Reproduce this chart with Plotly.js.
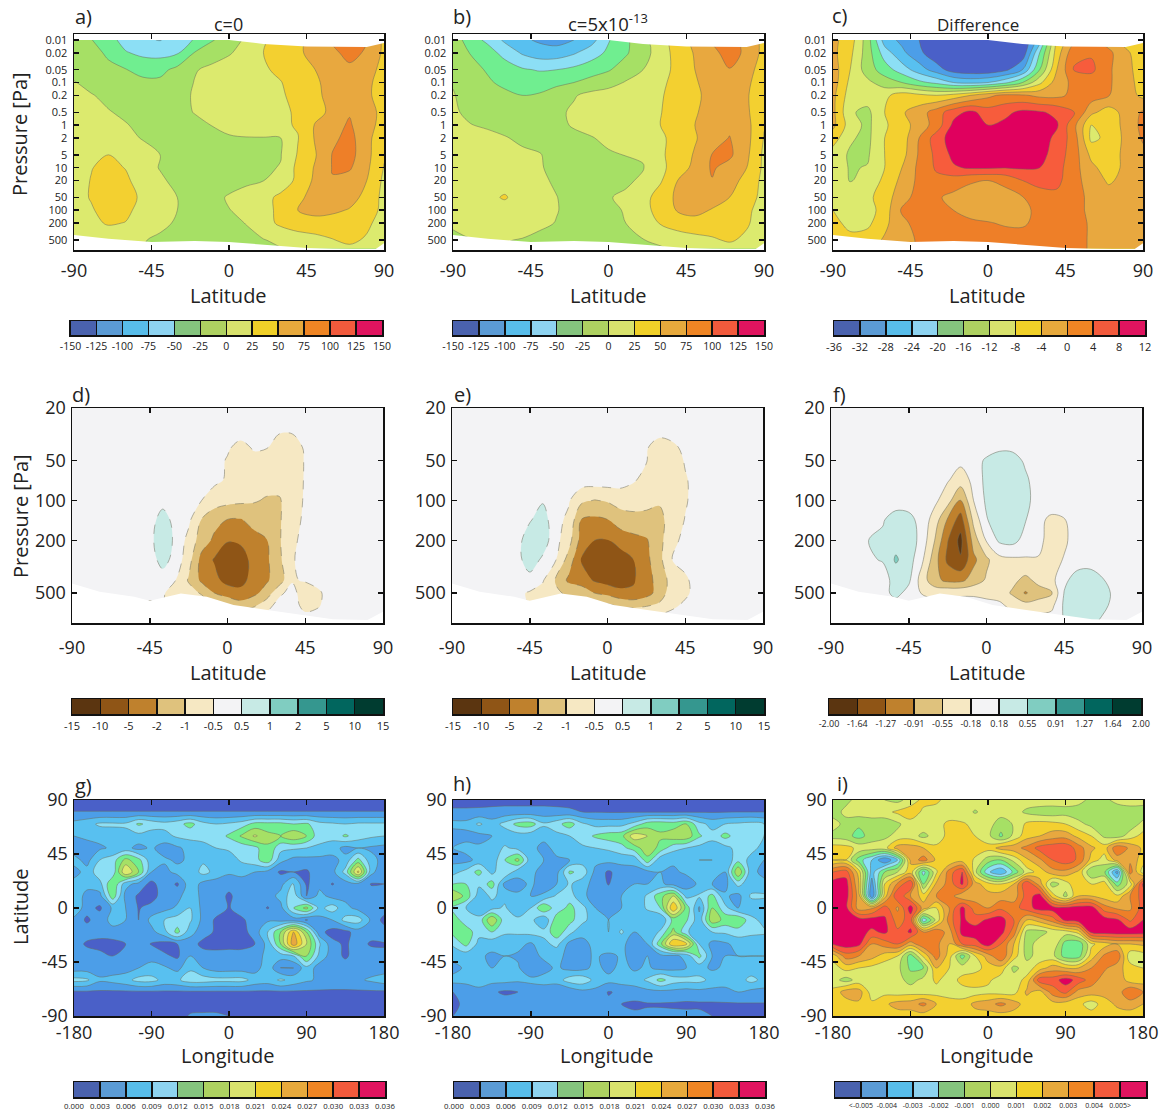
<!DOCTYPE html>
<html><head><meta charset="utf-8">
<script src="https://cdn.plot.ly/plotly-3.0.1.min.js"></script>
<style>html,body{margin:0;padding:0;background:#fff}</style></head>
<body><div id="chart" style="width:1166px;height:1114px"></div>
<script>
// ---------- coordinates ----------
const latTop = [-90,-80,-70,-60,-50,-40,-30,-20,-10,0,10,20,30,40,50,60,70,80,90];
const presTop = [0.01,0.02,0.05,0.1,0.2,0.5,1,2,5,10,20,50,100,200,500,800];
const latMid = [-90,-60,-52.5,-45,-37.5,-30,-22.5,-15,-7.5,0,7.5,15,22.5,30,37.5,45,52.5,60,67.5,75,90];
const presMid = [20,30,40,50,70,100,140,200,280,400,500,620,800];
const lonMap = [-180,-165,-150,-135,-120,-105,-90,-75,-60,-45,-30,-15,0,15,30,45,60,75,90,105,120,135,150,165,180];
const latMap = [90,80,70,60,50,40,30,20,10,0,-10,-20,-30,-40,-50,-60,-70,-80,-90];

// ---------- panel a: c=0 ----------
const zA = [
[-10,-24,-40,-60,-72,-76,-65,-48,-27,-15,5,22,35,45,58,78,85,76,45],
[-8,-15,-30,-48,-56,-58,-53,-24,-12,-2,8,25,35,46,58,70,82,72,45],
[-6,-10,-18,-24,-32,-32,-18,-2,6,10,15,22,30,42,50,62,70,60,42],
[1,-5,-10,-16,-20,-20,-15,1,8,12,16,20,24,36,47,57,62,55,40],
[5,1,-4,-10,-14,-14,-10,3,12,15,18,21,23,30,46,56,60,54,40],
[8,6,1,-3,-8,-10,-8,1,8,14,17,20,22,27,38,58,73,58,44],
[10,9,6,1,-4,-8,-10,-7,0.5,6,12,17,21,27,52,66,78,58,42],
[11,11,8,4,-1,-6,-10,-10,-7,-2,-1,-1,0,24,52,70,82,60,26],
[13,18,25,15,6,0,-8,-12,-21,-22,-8,-4,-1,27,48,76,84,58,27],
[14,24,32,24,8,-1,-7,-12,-16,-14,-8,-3,1,32,52,76,78,55,24],
[14,26,35,30,12,3,-5,-10,-10,-8,-4,-0.5,12,30,55,74,65,50,20],
[14,27,38,35,20,6,0,-6,-6,2,8,18,30,45,58,65,60,42,18],
[14,22,37,32,14,4,0,-6,-4,-0.5,4,18,30,50,58,55,48,38,18],
[12,18,28,24,12,4,-2,-8,-6,-4,0.5,15,30,38,40,38,38,30,14],
[8,6,5,4,1,-3,-8,-10,-10,-8,-4,-1,5,12,17,24,30,22,6],
[5,3,2,2,0,-5,-10,-12,-11,-10,-8,-6,-1,4,8,14,20,10,4]];

// ---------- panel b: c=5x10^-13 ----------
const zB = [
[-8,-40,-55,-80,-95,-104,-110,-100,-85,-52,-30,-8,15,38,58,78,88,62,45],
[-5,-26,-40,-58,-78,-88,-88,-78,-62,-45,-28,-10,12,35,52,68,85,70,42],
[-3,-18,-27,-38,-47,-52,-50,-44,-36,-27,-14,0,15,32,50,62,74,58,40],
[-1,-12,-22,-30,-35,-34,-30,-25,-16,-10,2,12,20,33,48,58,64,54,38],
[1,-6,-13,-20,-25,-23,-14,-2,7,12,15,18,23,33,47,55,60,52,36],
[2,-3,-7,-11,-15,-14,-5,4,10,14,17,20,24,36,48,58,64,54,30],
[4,0.5,-2,-5,-9,-10,-5,2,6,12,16,20,25,40,50,60,70,58,26],
[6,6,4,1,-3,-6,-8,-5,-1,4,9,14,20,35,48,62,76,58,24],
[10,11,9,7,3,1,-6,-9,-6,-2,0.5,2,20,38,52,76,80,55,20],
[11,13,12,10,6,2,-6,-12,-11,-9,-5,-1,18,38,56,78,66,50,20],
[12,14,15,16,9,4,-3,-10,-9,-6,-3,3,22,50,62,74,60,42,18],
[12,16,20,27,15,6,0.5,-8,-7,-1,3,16,36,55,64,62,50,38,16],
[8,13,15,16,11,6,1,-7,-5,-3,1,15,36,52,58,48,40,30,14],
[2,9,11,12,9,5,-1,-7,-7,-5,0,8,27,36,40,38,38,28,12],
[-3,-1,0.5,1,-1,-6,-9,-11,-10,-8,-4,-0.5,4,12,17,22,28,20,8],
[-5,-3,-2,-2,-3,-8,-10,-12,-11,-10,-8,-6,-2,3,8,12,16,10,4]];

// ---------- panel c: difference ----------
const zC = [
[-3,-6,-14,-26,-29,-32,-36,-38,-38,-38,-38,-36,-26,-7,-1,1,-2,-6,-7],
[-3,-7,-14,-22,-27,-31,-35,-38,-40,-40,-40,-35,-20,-6,3,3.5,1,-3,-7],
[-2,-8,-14,-18,-22,-26,-30,-34,-35,-35,-33,-28,-16,-4,4.3,5,0.5,-2,-7],
[-2,-9,-11,-14,-16,-19,-21,-24,-25,-24,-21,-16,-9,-2,1,1.5,0.5,-2,-6],
[-3,-10,-10,-9,-6,-7,-8,-6.5,-4,-1,1,0.5,-1,-1,1,2,0.2,-2,-5],
[-3,-11.5,-13,-8,-4.5,-2,2,6.5,9,6,7,9,8.5,7,4.5,-3,-6,-2.5,0.5],
[-3,-10,-13,-8.5,-6,-2,1.5,9,10,8,9,10,10,8.5,1,-8,-7,-2.5,1],
[-6,-11.5,-13,-8,-6,0,6,10,11,11,11,11,10,7,2,-9,-7,-3,0.5],
[-10,-12.5,-12.5,-8,-5.5,0.5,5,9,11,11,11,11,9.5,6,2,-5,-6,-3,-1],
[-10,-12.3,-11.8,-8,-4,1,4.5,7.5,8.5,8.5,8.2,8.5,8,5.5,1.5,-3,-6,-3,-2],
[-10,-12.2,-11,-7,-3,1,3,2,0.5,0,1,4,5.5,5,1.5,-2,-4.5,-3,-2],
[-9,-10.5,-9,-6,-1.5,1.5,0.5,-1,-2,-2,-1.5,-0.2,2,3,1.5,-1,-2.5,-3,-3],
[-8,-11,-10,-6,0.5,2,1.5,0,-2,-2.5,-2,-1,1,2.5,1.5,-1,-2,-2,-2],
[-6,-10,-9,-5,-1,1.5,2,2,1,0.3,-0.5,-0.5,1,2,1.5,-0.5,-1.5,-2,-2],
[-5,-6,-6,-3.5,-1.5,0.5,1,1.5,2,2,2,1.5,2,2,1.5,-0.5,-1.5,-2,-3],
[-4,-5,-5,-3,-1.5,0.5,1,1.5,2,2,2,1.5,2,2,1.5,-0.5,-1.5,-2,-3]];

// ---------- panel d ----------
const zD = [
[0,0,0,0,0,0,0,0,0,0,0,0,0,0,0,0,0,0,0,0,0],
[0,0,0,0,0,0,0,0,0,0,0,0,-.1,-.35,-.35,-.1,0,0,0,0,0],
[0,0,0,0,0,0,0,0,0,-.35,-.7,-.4,-.45,-.9,-.9,-.3,0,0,0,0,0],
[0,0,0,0,0,0,0,0,-.1,-.55,-.8,-.65,-.7,-.85,-.85,-.4,0,0,0,0,0],
[0,0,0,0,0,0,0,-.1,-.3,-.55,-.8,-.8,-.8,-.8,-.8,-.4,0,0,0,0,0],
[0,0,0,0,.1,0,-.1,-.5,-.75,-.85,-.9,-.95,-1.1,-1.1,-.7,-.4,0,0,0,0,0],
[0,0,0,0,.75,.1,-.3,-1.05,-1.7,-2.1,-2.2,-1.7,-1.3,-1.1,-.7,-.3,0,0,0,0,0],
[0,0,0,.1,.95,.2,-.65,-1.5,-2.6,-4.8,-4.5,-3,-2.2,-1.1,-.6,-.2,0,0,0,0,0],
[0,0,0,0,.7,.1,-.8,-3,-5.5,-8,-7.5,-4,-2.6,-1.2,-.55,-.1,0,0,0,0,0],
[0,0,0,0,0,-.5,-1.1,-2.6,-4,-7,-6.5,-4,-2.4,-1.5,-.55,-.4,-.1,0,0,0,0],
[0,0,0,-.2,-.4,-.7,-.8,-1.1,-2,-3,-4.2,-2.8,-1.6,-.6,-.15,-.8,-.6,0,0,0,0],
[0,0,-.1,-.6,-.5,-.6,-.6,-.7,-1,-1.3,-1.5,-1.2,-.7,-.1,0,-.7,-.55,0,0,0,0],
[0,0,0,0,0,0,0,0,0,0,0,0,0,0,0,0,0,0,0,0,0]];

// ---------- panel e ----------
const zE = [
[0,0,0,0,0,0,0,0,0,0,0,0,0,0,0,0,0,0,0,0,0],
[0,0,0,0,0,0,0,0,0,0,0,0,0,-.1,0,0,0,0,0,0,0],
[0,0,0,0,0,0,0,0,0,0,0,0,-.4,-.8,-.65,-.2,0,0,0,0,0],
[0,0,0,0,0,0,0,0,0,0,0,-.1,-.45,-.85,-.8,-.4,0,0,0,0,0],
[0,0,0,0,0,0,0,0,0,0,-.1,-.4,-.65,-.9,-.85,-.55,-.1,0,0,0,0],
[0,0,0,.1,.4,0,-.4,-.9,-1.05,-.95,-.8,-.8,-.85,-.95,-.8,-.55,-.1,0,0,0,0],
[0,0,0,.4,.75,-.2,-.6,-2.2,-2.6,-2.1,-1.5,-1.3,-1.3,-1.25,-.8,-.45,0,0,0,0,0],
[0,0,.1,.8,.8,-.2,-.8,-3.2,-5,-5.2,-3.8,-3,-2.3,-1.3,-.65,-.2,0,0,0,0,0],
[0,0,.1,.8,.3,-.45,-1.4,-5.5,-6,-7,-7.5,-5,-2.8,-1.3,-.5,-.1,0,0,0,0,0],
[0,0,0,.1,-.4,-1.1,-2.6,-3.5,-5.5,-7,-7.8,-5.5,-3.2,-1.6,-.8,-.6,0,0,0,0,0],
[0,0,-.3,-.55,-.7,-.9,-1.2,-1.4,-2,-2.8,-4,-4.5,-3.2,-1.6,-.7,-.6,-.1,0,0,0,0],
[0,0,-.1,-.5,-.6,-.6,-.6,-.7,-.7,-.9,-1.2,-1.3,-1.1,-.9,-.6,-.3,0,0,0,0,0],
[0,0,0,0,0,0,0,0,0,0,0,0,0,0,0,0,0,0,0,0,0]];

// ---------- panel f ----------
const zF = [
[0,0,0,0,0,0,0,0,0,0,0,0,0,0,0,0,0,0,0,0,0],
[0,0,0,0,0,0,0,0,0,0,0,0,0,0,0,0,0,0,0,0,0],
[0,0,0,0,0,0,0,0,0,0,.1,.1,0,0,0,0,0,0,0,0,0],
[0,0,0,0,0,0,0,-.1,0,.25,.4,.35,.12,0,0,0,0,0,0,0,0],
[0,0,0,0,0,0,-.15,-.35,-.1,.3,.42,.42,.25,0,0,0,0,0,0,0,0],
[0,0,0,0,0,-.1,-.4,-.95,-.18,.25,.42,.42,.3,0,0,0,0,0,0,0,0],
[0,.15,.35,.3,.05,-.35,-.95,-1.45,-.45,.15,.42,.42,.2,-.1,-.25,-.2,0,0,0,0,0],
[0,.25,.4,.4,.05,-.55,-1.25,-1.75,-.75,-.15,.25,.3,.05,-.1,-.3,-.25,0,0,0,0,0],
[0,.2,.6,.35,-.1,-.75,-1.35,-1.6,-1,-.62,-.3,-.25,-.22,-.2,-.35,-.15,0,0,0,0,0],
[0,.05,.3,.25,-.35,-.8,-1,-1,-.75,-.5,-.3,-.45,-.65,-.45,-.3,.1,.35,.4,.2,0,0],
[0,.05,.3,.05,-.2,-.3,-.25,-.25,-.25,-.3,-.35,-.6,-.95,-.7,-.6,.2,.4,.45,.35,.05,0],
[0,0,0,0,0,0,0,0,0,-.05,-.1,-.3,-.4,-.4,-.3,.25,.4,.45,.3,0,0],
[0,0,0,0,0,0,0,0,0,0,0,0,0,0,0,.2,.3,.35,.1,0,0]];

// ---------- panel g (x 10^-3) ----------
const zG = [
[1.5,1.5,1.5,1.5,1.5,1.5,1.5,1.5,1.5,1.5,1.5,1.5,1.5,1.5,1.5,1.5,1.5,1.5,1.5,1.5,1.5,1.5,1.5,1.5,1.5],
[3.1,3.1,3.1,3.1,3.1,3.1,3.1,3.1,3.1,3.1,3.1,3.1,3.1,3.1,3.1,3.1,3.1,3.1,3.1,3.1,3.1,3.1,3.1,3.1,3.1],
[7,8,9.5,9.5,9.5,12.5,11,10,11,13,10,9,9.5,10.5,13,13,13,12,12.5,10,9.5,9,9.5,9.5,9.5],
[6,6.5,7,7.5,8,8,7,8,9.5,10,10,10.5,12.5,15.5,18.5,16,15,17.5,15,10,10,12.5,10.5,9.5,9],
[4.5,5,5.5,6.5,7,5,6.5,4.5,5.5,7,8,9,9.5,10,11,14.5,10,9.5,9,8.5,7.5,5,6,5.5,5],
[7,5,9,10.5,16,13,7,6.5,5.5,6.5,8.5,8,7.5,9.5,11,14,7,5,5,5,5,7,13,7,5],
[5,7,11,10,21,15,6,5,7,7,10,8,6.5,7,6,5,2.5,3,2.5,5,5,10,22,7,3.5],
[7,6.5,8,15,7,5,2,5,2.5,8,5,4.5,4,4.5,4.5,4.5,5,9.5,2.5,5,2.8,4.5,5,2.8,3],
[7,5.5,5,14,5,2.5,1.8,4.5,5,8,5,4.5,2.5,4.5,4.5,4.5,7,11,3,7,5,5,5,4.5,4.5],
[9,4,2.5,6.5,6,2.8,4,5,6.5,9,5,4.5,2.8,4.5,4.5,2.8,5,12,16,8,10.5,7,5,4.5,4.5],
[5,2.5,4.5,7,6,3,7,9,10.5,9.5,5,2.5,1.8,2.5,4.5,5.5,5,4.5,2.8,5,6,10,10.5,5.5,2],
[4.5,4.5,4.5,5,5,4.5,5,8,13,7,4.5,2.5,1.5,1.8,4.5,9,15,24,15,4,1.8,2,4.5,4.5,4.5],
[4.5,2.5,1.8,1.8,3,4.5,2.8,1.8,3,4.5,2,1.5,1.8,1.8,3,7,15,26,18,9.5,4,2.5,4.5,2.5,2.8],
[4.5,4.5,4,3,4,4.5,5,3.5,2.5,6,4.5,4.5,4.5,4.5,4.5,7,7.5,9,15.5,8,4.5,2.5,4.5,5,3.5],
[4.5,4.5,4.5,4.5,4.5,6,7,6.5,5,8.5,6,4.5,4.5,4.5,4.5,8,2.8,3,8,4.5,4.5,4.5,4.5,4.5,4.5],
[10,9.5,6.5,7,8,10,10,8,8.5,10.5,10.5,10,10,10,8,7.5,9.5,8,6.5,5.5,5,5,5.5,6.5,7.5],
[2.5,2.5,2.5,2.5,2.5,2.5,2.5,2.5,2.5,2.5,2.5,2.5,2.5,2.5,2.5,2.5,2.5,2.5,2.5,2.5,2.5,2.5,2.5,2.5,2.5],
[1.5,1.5,1.5,1.5,1.5,1.5,1.5,1.5,1.5,1.5,1.5,1.5,1.5,1.5,1.5,1.5,1.5,1.5,1.5,1.5,1.5,1.5,1.5,1.5,1.5],
[1.5,1.5,1.5,1.5,1.5,1.5,1.5,1.5,1.5,3.4,3.6,3.6,3,1.5,1.5,1.5,1.5,1.5,1.5,1.5,1.5,1.5,1.5,1.5,1.5]];

// ---------- panel h (x 10^-3) ----------
const zH = [
[2,2,2,2,2,2,2,2,2,2,2,2,2,2,2,2,2,2,2,2,2,2,2,2,2],
[3.5,3.5,3.6,3.8,4,4,4,4,3.8,3.5,3,2.9,2.8,2.8,2.8,2.8,2.8,2.8,2.8,2.8,2.8,2.9,3,3,3],
[7,7,9.5,7.5,10,13,13.5,9.5,11,13.5,9.5,8,8,8,10,13.5,14,13.5,15,10,8,9,9.5,10,9],
[4.5,5,5,6,7,7.5,7,7,8,9,10.5,12.5,13.5,14,20,18,15.5,17,17,12.5,10,13,10.5,10,9],
[6,7,6.5,7,9.5,8,7,5,7,8,8.5,9,9.5,11,13.5,17,14,10,9,8,7.5,8,10,10,8],
[5,5,7,7,12,16,7,6,5.5,6,7.5,7,7,7,7,14,7,6.5,6.5,6,6,6.5,11,8,6],
[8,10,13,8,12,7,7,4.5,5,12.5,11,5,2.5,4.5,5,5,6,5.5,6.5,6.5,6.5,6,18,7,5],
[12,12,9.5,13.5,5,5,6.5,4.5,6,9.5,7,5,2.8,5.5,6,6,6.5,5,4.5,6.5,6,5,10,7,7],
[18,14,7.5,9.5,8,6.5,6,6.5,9.5,10.5,6.5,5,5,6,6.5,9.5,14,18,8,9.5,13,6.5,5,9.5,9.5],
[11,9,7,8,9.5,6,9,15,10,13,10,6,5,6,6.5,9.5,12,24,14,5.5,15,10,6,7,7],
[14,10,10,18,10,10,10,6,14,13,10,7,6,7,6.5,6.5,6,13,12.5,7,17,14,15,10,8],
[13,14,10,12,9.5,9.5,10,10,14,10,6.5,6.5,6,9.5,6,6.5,9.5,16,9.5,7,9,9.5,10.5,10,9.5],
[9.5,13,8,7,7,7,5.5,8,10,5,5.5,6.5,9,6.5,5,6,14,24,22,9,5,5.5,7,6.5,7],
[7,7,6.5,5.5,6,5.5,5,6.5,6.5,5.5,5,6.5,5,6.5,5,6,5,5,7,13,6,6,6,6,6],
[5,6.5,6.5,6,6.5,6.5,3,5,6.5,5,5,7,5,7,5.5,6.5,5,5,6,7,5.5,6.5,6.5,7,8],
[7,7,7.5,7,7,6.5,7,7,7.5,10.5,11,8,7,7.5,7.5,9.5,13,10.5,10,10,8,7.5,7.5,10,8],
[3,4,5,3.5,2.5,3,3.5,4.5,3,3.5,5,5,2.8,3.5,4.5,5,5,5,4.5,5,5,5,6,5,5],
[2.5,3.5,4,4.5,4.5,4,4,4,4,4,4,4,3.5,3,2.5,2.8,2.8,2.7,2.6,2.6,2.6,2.7,2.7,2.8,2.8],
[3,3.5,3.5,3.5,3.5,3.5,3.5,3.5,3.5,3.5,4,4,3.5,3.5,3.5,3.5,3.5,3.5,3.5,3.5,3,3,3,3,3]];

// ---------- panel i (x 10^-3) ----------
const zI = [
[-.5,-.3,.4,.5,0,-.3,.4,1.3,1.2,.6,.5,.5,.4,.3,.5,.5,.6,.6,.5,.4,-.3,-.3,.4,.6,.5],
[-.5,.3,.5,.6,.7,1.2,1.6,.8,.6,.5,.5,-.1,.4,.5,.4,-.2,-.5,-.6,-.4,-.6,-.7,-.5,-.8,-.6,-.6],
[.5,-.4,-.8,-.6,-.7,-.2,.6,.7,.7,1.2,1.1,.8,.5,-.6,.1,1.2,1.4,1.3,1,.3,-.3,-.7,-.8,-.6,.3],
[-.4,-.6,-1.4,-.5,-.2,.3,.5,-.3,.5,1.3,1.3,1,.3,-1.2,.3,1.6,2,2.5,2.6,1.7,1,-.2,-.5,.5,1.4],
[1.5,1.4,.7,.5,.6,2.5,2.5,2,1.2,1.6,1.6,1.3,1.4,2.4,2.6,3.3,4.4,4.7,4.8,3.5,2.2,1.5,3.8,2.8,1.8],
[1,1,-1.5,-3,-5,-3,2.2,3.5,1.8,1,1.5,.9,-.5,-1,.3,1.8,2.8,4,4.6,3.8,1.6,.5,2.5,2.8,1.4],
[4,4.5,1.5,-3.5,-1,0,1.6,-2.4,.8,3.5,5,.3,-2.8,-4,-1.7,.5,1.4,2.6,2.7,1.8,-1,-.8,-4.5,3.5,.5],
[5.5,5.5,2,-4.5,1,3.2,5,-1,2.2,3.4,5.2,2.4,1.4,1,2,5,2.5,-.5,.5,2,1,1.5,-1.5,.5,5.2],
[5.5,5.5,2.5,-5,1.5,5,3,1.5,3,3.5,2.2,2.5,2.4,2.5,2.4,4.5,5.5,1.5,-.3,2,2,1.5,1.2,3,4.5],
[5.5,5.3,2.5,2.8,4.5,2.8,5.5,2.5,1,3,5.3,3.5,3,3.8,3.6,4.5,5.5,5.5,5.3,5.5,5.5,3.5,2.8,2.8,4.5],
[5.6,5.6,5.5,5.5,5.2,3.5,4.5,-2.8,.3,3.5,5.2,4.5,5.2,5.5,4,2,2.5,3.5,5.3,5.6,5.6,5.5,5.2,3.8,5],
[5.6,5.6,5.4,4.8,5.2,4.2,5.2,3,3.8,2.5,5.4,5.6,5.5,5.4,3.5,-.3,-.4,.3,.5,1.4,5.3,5.5,5.6,5.6,5.5],
[5.1,5.6,5.3,3,3.5,4,2.5,3.8,3.3,2,4,4.5,5.5,4,2,-.5,.5,1,-1.5,-1.8,.8,1.5,2,2,2.2],
[1.4,3.5,3,2.4,1.5,1,-1.5,1.2,3.5,1.5,-1.5,1,2.5,4,1.5,-.3,.4,.3,-1.5,-1.5,1.5,3.2,3.8,.3,.5],
[.5,1.4,1,.7,.4,.3,-1.2,-1,2,1,.5,.5,1.5,1.6,-.3,.5,1.5,2.5,2,2,3,3.2,2.4,1.5,1],
[.4,-.4,.4,.4,.5,.4,-.4,.3,1.2,.5,1.3,1.8,1.2,.5,.5,1.3,4.6,4.5,5.5,4.6,3.5,2.5,2.8,1.5,1.5],
[1.3,2.5,2.5,.5,.7,.5,.6,.4,.6,.5,.6,.5,.7,.5,.6,2.2,1.6,3.5,4.3,2.6,2.5,2.4,2.4,4,3],
[1.3,1.5,1.8,1.2,1.8,2.4,2.5,3.3,2,1.5,1.3,2.3,2.6,3.3,2.5,1.5,1.4,1.6,1.5,1.3,.5,1.5,2.2,2.5,2],
[1.2,1.3,1.4,1.5,1.5,1.5,1.5,1.5,1.5,1.5,1.5,1.5,1.5,1.5,1.5,1.5,1.5,1.5,1.5,1.5,1.5,1.5,1.5,1.5,1.5]];

// ---------- data-coverage limits (white where no data) ----------
const topEdgeLat = [-90,-60,-20,0,20,45,80,90];
const topEdgeP = [0.0072,0.0075,0.0082,0.0100,0.0124,0.0142,0.0146,0.0118];
const botEdgeLat = [-90,-70,-45,-20,0,30,45,60,85,90];
const botEdgeP = [380,470,557,527,560,690,770,800,820,600];
const midEdgeLat = [-90,-74,-54,-45,-27,-12,3.5,23,42,61,81,90];
const midEdgeP = [423,489,533,571,503,533,615,671,732,788,799,691];

// ---------- colours ----------
const mapColors = ['#4a60c8','#4c9ee8','#58c0f0','#8cdff5','#70ee90','#a6e065','#dcea6e','#f3d030','#e8a83f','#ee7f28','#f75c3c','#e0005e'];
const barColors = ['#4a62ae','#5b9bd5','#58bdea','#8ed3f0','#85c47e','#aed161','#d9e26d','#f0d028','#e7a93c','#ef8524','#f25a3c','#e0145f'];
const brbgColors = ['#5b3510','#8f5516','#bf812d','#dfc27d','#f6e8c3','#f3f3f5','#c7eae5','#80cdc1','#35978f','#01665e','#003c30'];

// ---------- levels and labels ----------
const levelsWind = ['-150','-125','-100','-75','-50','-25','0','25','50','75','100','125','150'];
const levelsDiff = ['-36','-32','-28','-24','-20','-16','-12','-8','-4','0','4','8','12'];
const levelsMerid = ['-15','-10','-5','-2','-1','-0.5','0.5','1','2','5','10','15'];
const levelsMeridDiff = ['-2.00','-1.64','-1.27','-0.91','-0.55','-0.18','0.18','0.55','0.91','1.27','1.64','2.00'];
const levelsDust = ['0.000','0.003','0.006','0.009','0.012','0.015','0.018','0.021','0.024','0.027','0.030','0.033','0.036'];
const levelsDustDiff = ['<-0.005','-0.004','-0.003','-0.002','-0.001','0.000','0.001','0.002','0.003','0.004','0.005>'];
const presTickTop = [0.01,0.02,0.05,0.1,0.2,0.5,1,2,5,10,20,50,100,200,500];
const presTickMid = [20,50,100,200,500];
const latTicks = [-90,-45,0,45,90];
const lonTicks = [-180,-90,0,90,180];

const W = 1166, H = 1114, FONT = '"Open Sans", "Noto Sans", sans-serif', INK = '#222';
const px = v => v / W, py = v => 1 - v / H;

// non-uniform level labels -> band index
function toBand(levels) {
  const L = levels.map(Number);
  return z => z.map(r => r.map(v => {
    for (let i = 0; i < L.length - 1; i++) if (v <= L[i + 1]) return i + (v - L[i]) / (L[i + 1] - L[i]);
    return L.length - 1;
  }));
}

const panels = [
 {l:'a)',title:'c=0',tx:228,ty:24,tf:18,x:[74,384],y:[34,250],lx:83,ly:17,xs:latTop,ys:presTop,z:zA,st:-125,en:125,sz:25,kind:'top',ylab:134,xt:228,xty:295,sd:4,bar:[70.5,382,321,335],bt:levelsWind,bf:10.5},
 {l:'b)',title:'c=5x10<sup>-13</sup>',tx:608,ty:22,tf:18.5,x:[453,764],y:[34,250],lx:462,ly:17,xs:latTop,ys:presTop,z:zB,st:-125,en:125,sz:25,kind:'top',xt:608,xty:295,sd:4,bar:[453,764,321,335],bt:levelsWind,bf:10.5},
 {l:'c)',title:'Difference',tx:978,ty:24,tf:17,x:[833,1143],y:[34,250],lx:840,ly:16,xs:latTop,ys:presTop,z:zC,st:-32,en:8,sz:4,kind:'top',xt:987,xty:295,sd:4,bar:[834,1145,321,335],bt:levelsDiff,bf:11},
 {l:'d)',x:[72,383],y:[408,623],lx:81,ly:395,xs:latMid,ys:presMid,z:toBand(levelsMerid)(zD),st:1,en:10,sz:1,kind:'mid',ylab:516,xt:228,xty:672,sd:8,dash:'dash',bar:[72,383,699,714],bt:levelsMerid,bf:11},
 {l:'e)',x:[452,763],y:[408,623],lx:462,ly:395,xs:latMid,ys:presMid,z:toBand(levelsMerid)(zE),st:1,en:10,sz:1,kind:'mid',xt:608,xty:672,sd:8,dash:'dash',bar:[453,764,699,714],bt:levelsMerid,bf:11},
 {l:'f)',x:[831,1142],y:[408,623],lx:839,ly:395,xs:latMid,ys:presMid,z:toBand(levelsMeridDiff)(zF),st:1,en:10,sz:1,kind:'mid',xt:987,xty:672,sd:8,bar:[829,1141,699,714],bt:levelsMeridDiff,bf:9},
 {l:'g)',x:[74,384],y:[800,1016],lx:83,ly:785,xs:lonMap,ys:latMap,z:zG,st:3,en:33,sz:3,kind:'map',ylab:907,xt:228,xty:1055,sd:0,bar:[74,385,1082,1097],bt:levelsDust,bf:7.8},
 {l:'h)',x:[453,764],y:[800,1016],lx:462,ly:783,xs:lonMap,ys:latMap,z:zH,st:3,en:33,sz:3,kind:'map',xt:607,xty:1055,sd:0,bar:[454,765,1082,1097],bt:levelsDust,bf:7.8},
 {l:'i)',x:[833,1143],y:[800,1016],lx:842,ly:783,xs:lonMap,ys:latMap,z:zI,st:-5,en:5,sz:1,kind:'map',xt:987,xty:1055,sd:0,bar:[835,1146,1082,1097],bt:levelsDustDiff,bf:7,inner:true}
];

const traces = [], layout = {
  width:W, height:H, margin:{l:0,r:0,t:0,b:0}, paper_bgcolor:'#fff', plot_bgcolor:'#fff',
  showlegend:false, font:{family:FONT,color:INK}, annotations:[]
};
const ann = (text,x,y,size,extra) => layout.annotations.push(Object.assign({text,x:px(x),y:py(y),xref:'paper',yref:'paper',showarrow:false,font:{size,family:FONT,color:INK},xanchor:'center',yanchor:'middle'},extra||{}));

let n = 1;
panels.forEach(p => {
  const id = n===1?'':n, xa='xaxis'+id, ya='yaxis'+id, xr='x'+id, yr='y'+id;
  const cols = p.kind==='mid' ? brbgColors : mapColors;
  traces.push({type:'contour',x:p.xs,y:p.ys,z:p.z,xaxis:xr,yaxis:yr,autocontour:false,showscale:false,hoverinfo:'skip',
    contours:{coloring:'fill',start:p.st,end:p.en,size:p.sz,showlines:true},
    colorscale:cols.map((c,i)=>[i/(cols.length-1),c]),
    line:{color:'#6b6b5a',width:0.5,smoothing:1,dash:p.dash||'solid'}});
  const mask = (xs,ys,lim)=>traces.push({type:'scatter',mode:'lines',x:[-90,...xs,90],y:[lim,...ys,lim],xaxis:xr,yaxis:yr,fill:'toself',fillcolor:'#fff',line:{width:0},hoverinfo:'skip'});
  const isMap = p.kind==='map';
  let yRange, yTicks, yText, yFont;
  if (p.kind==='top') { yRange=[2.934,-2.14]; yTicks=presTickTop; yText=presTickTop.map(String); yFont=11;
    mask(topEdgeLat,topEdgeP,0.005); mask(botEdgeLat,botEdgeP,1200); }
  if (p.kind==='mid') { yRange=[2.925,1.301]; yTicks=presTickMid; yText=presTickMid.map(String); yFont=18;
    mask(midEdgeLat,midEdgeP,1200); }
  if (isMap) { yRange=[-90,90]; yTicks=[-90,-45,0,45,90]; yText=yTicks.map(String); yFont=18; }
  const xt = isMap?lonTicks:latTicks;
  const common = {showgrid:false,zeroline:false,showline:true,linecolor:'#111',linewidth:1.5,mirror:'ticks',ticks:'inside',ticklen:5,tickwidth:1.5,tickcolor:'#111',tickmode:'array',layer:'above traces'};
  layout[xa] = Object.assign({},common,{domain:[px(p.x[0]),px(p.x[1])],anchor:yr,range:isMap?[-180,180]:[-90,90],tickvals:xt,ticktext:xt.map(String),tickfont:{size:18,family:FONT,color:INK},ticklabelstandoff:p.sd});
  layout[ya] = Object.assign({},common,{domain:[py(p.y[1]),py(p.y[0])],anchor:xr,type:isMap?'linear':'log',range:yRange,tickvals:yTicks,ticktext:yText,tickfont:{size:yFont,family:FONT,color:INK},ticklabelstandoff:p.kind==='top'?3:1});
  ann(isMap?'Longitude':'Latitude',p.xt,p.xty,20);
  if (p.ylab) ann(isMap?'Latitude':'Pressure [Pa]',20,p.ylab,20,{textangle:-90});
  ann(p.l,p.lx,p.ly,20);
  if (p.title) ann(p.title,p.tx,p.ty,p.tf);
  n++;
  // colour key
  const id2=n, xa2='xaxis'+id2, ya2='yaxis'+id2, xr2='x'+id2, yr2='y'+id2;
  const bcols = p.kind==='mid' ? brbgColors : barColors;
  const N = bcols.length;
  traces.push({type:'heatmap',z:[bcols.map((c,i)=>i)],x:bcols.map((c,i)=>i+0.5),y:[0],xaxis:xr2,yaxis:yr2,showscale:false,hoverinfo:'skip',zmin:0,zmax:N-1,
    colorscale:bcols.map((c,i)=>[i/(N-1),c])});
  layout[xa2] = {domain:[px(p.bar[0]),px(p.bar[1])],anchor:yr2,range:[0,N],showgrid:false,zeroline:false,showline:true,mirror:true,linecolor:'#111',linewidth:1.5,ticks:'inside',ticklen:p.bar[3]-p.bar[2],tickwidth:1.5,tickcolor:'#111',tickmode:'array',layer:'above traces',
    tickvals:p.inner?p.bt.map((t,i)=>i+1):p.bt.map((t,i)=>i),ticktext:p.bt,tickfont:{size:p.bf,family:FONT,color:INK},ticklabelstandoff:1,tickangle:0};
  layout[ya2] = {domain:[py(p.bar[3]),py(p.bar[2])],anchor:xr2,range:[-0.5,0.5],showticklabels:false,ticks:'',showgrid:false,zeroline:false,showline:true,mirror:true,linecolor:'#111',linewidth:1.5};
  n++;
});
Plotly.newPlot('chart',traces,layout,{displayModeBar:false,staticPlot:true});
</script></body></html>
